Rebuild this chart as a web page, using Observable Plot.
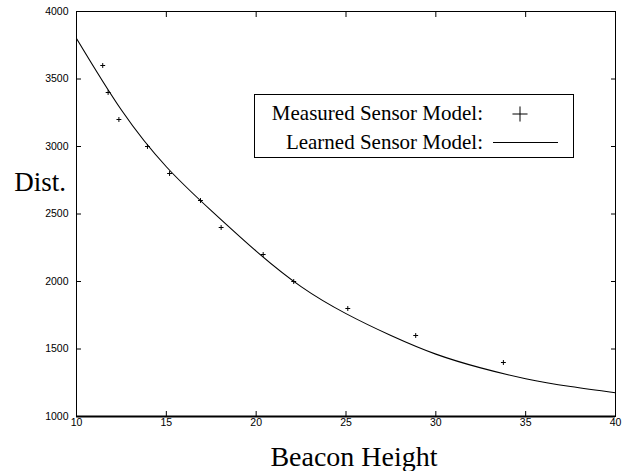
<!DOCTYPE html>
<html><head><meta charset="utf-8">
<script src="https://cdn.jsdelivr.net/npm/d3@7"></script>
<script src="https://cdn.jsdelivr.net/npm/@observablehq/plot@0.6"></script>
<style>html,body{margin:0;padding:0;background:#fff} svg{display:block}</style>
</head><body><div id="chart"></div>
<script>
// Measured sensor model (crosses)
const measuredHeight = [11.46, 11.76, 12.36, 13.95, 15.18, 16.90, 18.05, 20.39, 22.09, 25.10, 28.88, 33.76];
const measuredDist   = [3600, 3400, 3200, 3000, 2800, 2600, 2400, 2200, 2000, 1800, 1600, 1400];
// Learned sensor model (line)
const learnedHeight = [10, 12.5, 15, 17.5, 20, 22.5, 25, 27.5, 30, 32.5, 35, 37.5, 40];
const learnedDist   = [3800, 3270, 2850, 2525, 2225, 1962, 1762, 1600, 1462, 1360, 1280, 1222, 1176];
// Ticks
const xTicks = [10, 15, 20, 25, 30, 35, 40];
const yTicks = [1000, 1500, 2000, 2500, 3000, 3500, 4000];
const xTitle = "Beacon Height";
const yTitle = "Dist.";
const legendLabels = ["Measured Sensor Model:", "Learned Sensor Model:"];

const measured = measuredHeight.map((h, i) => ({h, d: measuredDist[i]}));
const learned = learnedHeight.map((h, i) => ({h, d: learnedDist[i]}));

const W = 623, H = 471;
const fmt = d => String(d);
const chart = Plot.plot({
  width: W, height: H,
  marginLeft: 76, marginRight: 8, marginTop: 11, marginBottom: 55,
  style: {fontFamily: "'Liberation Sans', Arial, sans-serif", fontSize: "10.5px", color: "#000", background: "#fff"},
  x: {domain: [10, 40]},
  y: {domain: [1000, 4000]},
  marks: [
    Plot.frame({stroke: "#000", strokeWidth: 1}),
    Plot.ruleY([1000], {stroke: "#000", strokeWidth: 2}),
    Plot.axisX(xTicks, {anchor: "bottom", tickSize: -5, tickPadding: 7, tickFormat: fmt, label: null}),
    Plot.axisX(xTicks, {anchor: "top", tickSize: -5, tickFormat: () => "", label: null}),
    Plot.axisY(yTicks, {anchor: "left", tickSize: -5, tickPadding: 13, tickFormat: fmt, label: null}),
    Plot.axisY(yTicks, {anchor: "right", tickSize: -5, tickFormat: () => "", label: null}),
    Plot.line(learned, {x: "h", y: "d", curve: "natural", stroke: "#000", strokeWidth: 1.1}),
    Plot.dot(measured, {x: "h", y: "d", symbol: "plus", r: 1.7, stroke: "#000", strokeWidth: 1})
  ]
});
document.getElementById("chart").append(chart);

const svg = d3.select(chart);
const serif = "'Liberation Serif', 'Times New Roman', serif";
svg.append("text").attr("x", 66).attr("y", 191).attr("text-anchor", "end")
  .style("font-family", serif).style("font-size", "27px").attr("fill", "#000").text(yTitle);
svg.append("text").attr("x", 354).attr("y", 466).attr("text-anchor", "middle")
  .style("font-family", serif).style("font-size", "28px").attr("fill", "#000").text(xTitle);

// Legend
const lg = svg.append("g");
lg.append("rect").attr("x", 254.5).attr("y", 94.5).attr("width", 319).attr("height", 63)
  .attr("fill", "#fff").attr("stroke", "#000").attr("stroke-width", 1);
lg.append("text").attr("x", 483).attr("y", 120).attr("text-anchor", "end")
  .style("font-family", serif).style("font-size", "21px").attr("fill", "#000").text(legendLabels[0]);
lg.append("text").attr("x", 483).attr("y", 149).attr("text-anchor", "end")
  .style("font-family", serif).style("font-size", "21px").attr("fill", "#000").text(legendLabels[1]);
lg.append("path").attr("transform", "translate(520,114)")
  .attr("d", d3.symbol(d3.symbolPlus, 76)()).attr("fill", "none").attr("stroke", "#000").attr("stroke-width", 1);
lg.append("line").attr("x1", 493).attr("x2", 558).attr("y1", 142.5).attr("y2", 142.5)
  .attr("stroke", "#000").attr("stroke-width", 1.1);
</script>
</body></html>
